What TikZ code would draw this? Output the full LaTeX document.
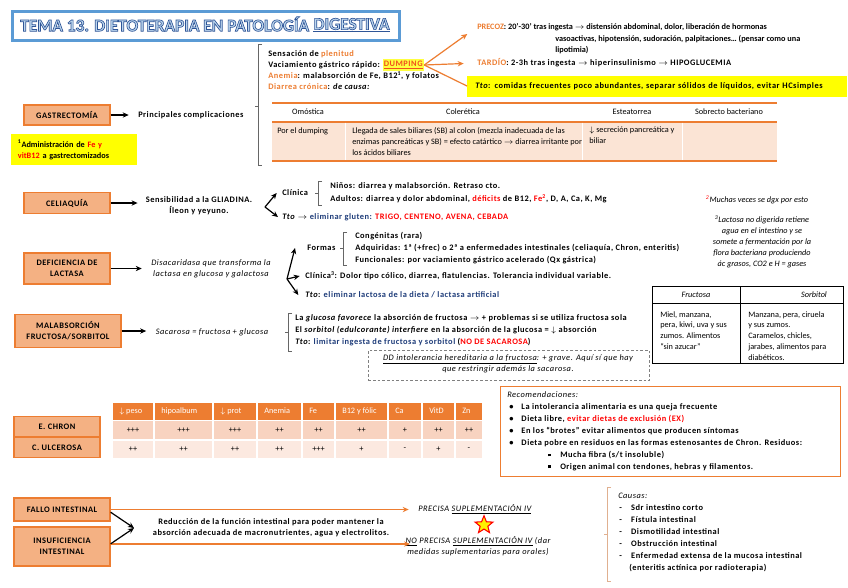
\documentclass[tikz,border=0pt]{standalone}
\usepackage{fontspec}
\setmainfont{Carlito}
\newfontfamily\wf{Carlito}[LetterSpace=6]
\usetikzlibrary{arrows.meta,shapes.geometric}
\definecolor{org}{HTML}{ED7D31}
\definecolor{salm}{HTML}{F4B183}
\definecolor{peach}{HTML}{FBE4D5}
\definecolor{navy}{HTML}{1F3D7A}
\definecolor{yel}{HTML}{FFFF00}
\definecolor{tline}{HTML}{5B9BD5}
\definecolor{tfill}{HTML}{BDD7EE}
\definecolor{tdark}{HTML}{2F5597}
\definecolor{rowa}{HTML}{F8D3C0}
\definecolor{rowb}{HTML}{FCE9E0}
\definecolor{dumpc}{HTML}{F0501E}
\definecolor{brkc}{HTML}{E0B090}
\newcommand\fs{\fontsize{6.2}{8.2}\selectfont}
\newcommand\fw{\fontsize{6.3}{8.2}\selectfont\wf}
\newcommand\outl[1]{\special{pdf:literal direct 2 Tr 0.5 w 0.184 0.333 0.592 RG}#1\special{pdf:literal direct 0 Tr}}
\tikzset{
 txt/.style={anchor=west, inner sep=0pt, font=\fw\bfseries, align=left},
 ntxt/.style={anchor=west, inner sep=0pt, font=\fs\bfseries, align=left},
 rtxt/.style={anchor=west, inner sep=0pt, font=\fs, align=left},
 itxt/.style={anchor=west, inner sep=0pt, font=\fw\itshape, align=left},
 nitxt/.style={anchor=west, inner sep=0pt, font=\fs\itshape, align=left},
 ebox/.style={draw=org, fill=salm, line width=0.9pt, font=\fw\bfseries, align=center, inner sep=0pt},
 arr/.style={-{Stealth[length=4.5pt,width=4pt]}, line width=0.9pt},
 oarr/.style={org, -{Stealth[length=4.5pt,width=4pt]}, line width=0.9pt},
 brk/.style={draw=gray!80!black, line width=0.5pt},
}
\begin{document}
\begin{tikzpicture}[x=0.75pt,y=-0.75pt]
\useasboundingbox[fill=white] (0,0) rectangle (848,587);

% title
\node[draw=tline, line width=2pt, anchor=north west, minimum width=290.25pt, minimum height=21.75pt, inner sep=0] (titlebox) at (11,10) {};
\node[anchor=west, inner sep=0, font=\fontsize{13}{13}\selectfont\bfseries] (title1) at (20,24) {{\color{tfill}\outl{TEMA 13. DIETOTERAPIA EN PATOLOGÍA}}};
\node[anchor=west, inner sep=0, font=\fontsize{13}{13}\selectfont\bfseries] (title2) at ([xshift=3pt]title1.east) {{\color{tfill}\outl{DIGESTIVA}}};
\draw[tdark, line width=0.8pt] ([yshift=-1pt]title2.south west) -- ([yshift=-1pt]title2.south east);

% gastrectomia
\node[ebox, minimum width=64.5pt, minimum height=15pt] (gast) at (67,115) {GASTRECTOMÍA};
\node[txt] (princ) at (138,115) {Principales complicaciones};
\draw[arr, shorten >=7pt] (gast) -- (princ);
\node[fill=yel, anchor=north west, text width=84pt, inner xsep=5pt, inner ysep=0pt, minimum height=23.25pt, font=\fs\bfseries, align=left] (note1) at (11,134) {\textsuperscript{1}Administración de {\color{red}Fe y}\\{\color{red}vitB12} a gastrectomizados};
\draw[brk] (262,44) -- (258,44) -- (258,165) -- (262,165);
\draw[brk] (258,106) -- (255,106);

\node[txt] (s1) at (268,54) {Sensación de {\color{org}plenitud}};
\node[txt] (s2) at (268,65) {Vaciamiento gástrico rápido:};
\node[txt, fill=yel!75, inner xsep=1pt, inner ysep=1.2pt, text=dumpc] (dump) at ([xshift=1.5pt]s2.east) {\underline{DUMPING}};
\node[txt] (s3) at (268,76) {{\color{org}Anemia}: malabsorción de Fe, B12\textsuperscript{1}, y folatos};
\node[txt] (s4) at (268,87) {{\color{org}Diarrea crónica}: \textit{de causa:}};

\node[ntxt] (precoz) at (477,27) {{\color{org}PRECOZ}: 20'-30' tras ingesta $\rightarrow$ distensión abdominal, dolor, liberación de hormonas};
\node[ntxt] (precoz2) at (555,39) {vasoactivas, hipotensión, sudoración, palpitaciones… (pensar como una};
\node[ntxt] (precoz3) at (555,50) {lipotimia)};
\node[txt] (tardio) at (477,63) {{\color{org}TARDÍO}: 2-3h tras ingesta $\rightarrow$ hiperinsulinismo $\rightarrow$ HIPOGLUCEMIA};
\node[fill=yel, anchor=west, minimum height=15.75pt, text width=273pt, inner xsep=6pt, font=\fw\bfseries, align=left] (ttod) at (467,86) {\textit{Tto}: comidas frecuentes poco abundantes, separar sólidos de líquidos, evitar HCsimples};
\draw[oarr, shorten >=9pt] (dump.east) -- (precoz.west);
\draw[oarr, shorten >=10pt] (dump.east) -- (tardio.west);
\draw[org, line width=0.9pt] (dump.east) -- (ttod.west);

% table
\fill[peach] (272,122) rectangle (777,161);
\draw[org, line width=1.3pt] (272,103) -- (777,103);
\draw[org, line width=0.9pt] (272,122) -- (777,122);
\draw[org, line width=1.6pt] (272,161) -- (777,161);
\foreach \c in {345,582,682} {\draw[white, line width=0.6pt] (\c,122.5) -- (\c,160);}
\node[rtxt, anchor=center] (h1) at (308,112) {Omóstica};
\node[rtxt, anchor=center] (h2) at (463,112) {Colerética};
\node[rtxt, anchor=center] (h3) at (632,112) {Esteatorrea};
\node[rtxt, anchor=center] (h4) at (729,112) {Sobrecto bacteriano};
\node[rtxt] (b1) at (277,131) {Por el dumping};
\node[rtxt, anchor=north west] (b2) at (352,127) {Llegada de sales biliares (SB) al colon (mezcla inadecuada de las\\enzimas pancreáticas y SB) = efecto catártico $\rightarrow$ diarrea irritante por\\los ácidos biliares};
\node[rtxt, anchor=north west] (b3) at (589,127) {$\downarrow$ secreción pancreática y\\biliar};

% celiaquia
\node[ebox, minimum width=64.5pt, minimum height=16pt] (celiac) at (67,203) {CELIAQUÍA};
\node[txt, anchor=center, align=center] (glia) at (199,205.5) {Sensibilidad a la GLIADINA.\\Íleon y yeyuno.};
\draw[arr, shorten >=6pt] (celiac) -- (glia.west |- celiac);
\coordinate (fk1) at (265,207);
\node[txt] (clin) at (282,193) {Clínica};
\node[txt] (ttoc) at (282,217) {\textit{Tto} $\rightarrow$ {\color{navy}eliminar gluten:} {\color{red}TRIGO, CENTENO, AVENA, CEBADA}};
\draw[arr] (fk1) -- ([xshift=-4pt]clin.west);
\draw[arr] (fk1) -- ([xshift=-3pt]ttoc.west);
\draw[brk] (322,181) -- (318,181) -- (318,205) -- (322,205);
\draw[brk] (318,193) -- (315,193);
\node[txt] (ninos) at (330,186) {Niños: diarrea y malabsorción. Retraso cto.};
\node[txt] (adult) at (330,199) {Adultos: diarrea y dolor abdominal, {\color{red}déficits} de B12, {\color{red}Fe\textsuperscript{2}}, D, A, Ca, K, Mg};
\node[nitxt, anchor=center] (n2) at (757,200) {\textsuperscript{\color{red}2}Muchas veces se dgx por esto};
\node[nitxt, anchor=center, align=center] (n3) at (762,242) {\textsuperscript{3}Lactosa no digerida retiene\\agua en el intestino y se\\somete a fermentación por la\\flora bacteriana produciendo\\ác grasos, CO2 e H = gases};

% lactasa
\node[ebox, minimum width=64.5pt, minimum height=23.25pt] (lact) at (67,268.5) {DEFICIENCIA DE\\LACTASA};
\node[itxt, anchor=center, align=center] (disac) at (211,269) {Disacaridasa que transforma la\\lactasa en glucosa y galactosa};
\draw[arr, shorten >=7pt] (lact) -- (disac.west |- lact);
\coordinate (fk2) at (287,279);
\node[txt] (formas) at (307,248) {Formas};
\node[txt] (clin2) at (305,276) {Clínica\textsuperscript{3}: Dolor tipo cólico, diarrea, flatulencias. Tolerancia individual variable.};
\node[txt] (ttol) at (305,295) {\textit{Tto}: {\color{navy}eliminar lactosa de la dieta / lactasa artificial}};
\draw[arr] (fk2) -- ([xshift=-9pt]formas.west);
\draw[arr] (fk2) -- ([xshift=-4pt]clin2.west);
\draw[arr] (fk2) -- ([xshift=-5pt]ttol.west);
\draw[brk] (347,232) -- (343,232) -- (343,265) -- (347,265);
\draw[brk] (343,248) -- (340,248);
\node[txt] (cong) at (355,236) {Congénitas (rara)};
\node[txt] (adq) at (355,248) {Adquiridas: 1ª (+frec) o 2ª a enfermedades intestinales (celiaquía, Chron, enteritis)};
\node[txt] (func) at (355,260) {Funcionales: por vaciamiento gástrico acelerado (Qx gástrica)};

% malabsorcion
\node[ebox, minimum width=79.5pt, minimum height=24.75pt] (malab) at (68,331) {MALABSORCIÓN\\FRUCTOSA/SORBITOL};
\node[itxt, anchor=center] (sacar) at (212,332) {Sacarosa = fructosa + glucosa};
\draw[arr, shorten >=7pt] (malab) -- (sacar.west |- malab);
\draw[brk] (292,313) -- (288,313) -- (288,351) -- (292,351);
\draw[brk] (288,332) -- (285,332);
\node[txt] (m1) at (295,318) {La \textit{glucosa favorece} la absorción de fructosa $\rightarrow$ + problemas si se utiliza fructosa sola};
\node[txt] (m2) at (295,330) {El \textit{sorbitol (edulcorante) interfiere} en la absorción de la glucosa = $\downarrow$ absorción};
\node[txt] (m3) at (295,342) {\textit{Tto}: {\color{navy}limitar ingesta de fructosa y sorbitol} ({\color{red}NO DE SACAROSA})};
\node[draw=gray, dash pattern=on 2pt off 1.5pt, line width=0.5pt, anchor=north west, minimum width=210.75pt, minimum height=22.5pt, inner sep=0] (ddbox) at (368,350) {};
\node[itxt, anchor=center, align=center] (ddtxt) at (508,364) {\underline{DD intolerancia hereditaria a la fructosa}: + grave. Aquí sí que hay\\que restringir además la sacarosa.};

% fructosa table
\draw[line width=0.7pt] (652,286) rectangle (843,363);
\draw[line width=0.7pt] (652,303) -- (843,303);
\draw[line width=0.7pt] (740,286) -- (740,363);
\node[nitxt, anchor=center] (fh1) at (696,295) {Fructosa};
\node[nitxt, anchor=center] (fh2) at (814,295) {Sorbitol};
\node[rtxt, anchor=north west] (fb1) at (660,311) {Miel, manzana,\\pera, kiwi, uva y sus\\zumos. Alimentos\\“sin azucar”};
\node[rtxt, anchor=north west] (fb2) at (748,311) {Manzana, pera, ciruela\\y sus zumos.\\Caramelos, chicles,\\jarabes, alimentos para\\diabéticos.};

% chron table
\node[ebox, minimum width=64.5pt, minimum height=15pt] (chron) at (57,426.5) {E. CHRON};
\node[ebox, minimum width=64.5pt, minimum height=15pt] (ulc) at (57,447.5) {C. ULCEROSA};
\foreach \a/\b/\h/\va/\vb in {112/154/$\downarrow$ peso/+++/++, 154/213/hipoalbum/+++/++, 213/257/$\downarrow$ prot/+++/++, 257/302/Anemia/++/++, 302/335/Fe/++/+++, 335/388/B12 y fólic/++/+, 388/422/Ca/+/-, 422/455/VitD/++/+, 455/483/Zn/++/-}{
  \fill[org] (\a+0.7,403) rectangle (\b-0.7,419.5);
  \fill[rowa] (\a+0.7,421) rectangle (\b-0.7,439);
  \fill[rowb] (\a+0.7,440.5) rectangle (\b-0.7,458);
  \node[rtxt, text=white] (hd\a) at (\a+7,411) {\h};
  \node[rtxt, anchor=center] (ra\a) at ({(\a+\b)/2},430) {\va};
  \node[rtxt, anchor=center] (rb\a) at ({(\a+\b)/2},449) {\vb};
}

% recomendaciones
\node[draw=org, line width=1pt, anchor=north west, minimum width=255pt, minimum height=67.5pt, inner sep=0] (recbox) at (500,386) {};
\node[itxt] (rec0) at (507,395) {Recomendaciones:};
\node[txt] (r1) at (509,407) {\textbullet\hspace{6pt}La intolerancia alimentaria es una queja frecuente};
\node[txt] (r2) at (509,419) {\textbullet\hspace{6pt}Dieta libre, {\color{red}evitar dietas de exclusión (EX)}};
\node[txt] (r3) at (509,431) {\textbullet\hspace{6pt}En los “brotes” evitar alimentos que producen síntomas};
\node[txt] (r4) at (509,443) {\textbullet\hspace{6pt}Dieta pobre en residuos en las formas estenosantes de Chron. Residuos:};
\node[txt] (r5) at (548,455) {\rule[0.3ex]{2pt}{2pt}\hspace{7pt}Mucha fibra (s/t insoluble)};
\node[txt] (r6) at (548,467) {\rule[0.3ex]{2pt}{2pt}\hspace{7pt}Origen animal con tendones, hebras y filamentos.};

% fallo intestinal
\node[ebox, minimum width=72pt, minimum height=17.25pt] (fallo) at (62,509.5) {FALLO INTESTINAL};
\node[ebox, minimum width=72pt, minimum height=29.25pt] (insuf) at (62,546.5) {INSUFICIENCIA\\INTESTINAL};
\node[itxt] (precisa) at (418,509) {PRECISA \underline{SUPLEMENTACIÓN IV}};
\draw[oarr, shorten >=7pt] (fallo.east) -- (precisa.west |- fallo.east);
\node[itxt, anchor=north, align=center] (noprec) at (478,536) {\underline{NO} PRECISA \underline{SUPLEMENTACIÓN IV} (dar\\medidas suplementarias para orales)};
\coordinate (nop) at (410,544);
\draw[oarr] (insuf.east |- nop) -- (nop);
\coordinate (jn) at (134,528);
\draw[arr] ([yshift=-2pt]fallo.east) -- (jn);
\draw[arr] ([yshift=2pt]insuf.east) -- (jn);
\node[txt, anchor=center, align=center] (reduc) at (271,528) {Reducción de la función intestinal para poder mantener la\\absorción adecuada de macronutrientes, agua y electrolitos.};
\node[star, star points=5, star point ratio=2.3, fill=yellow, draw=red, line width=0.8pt, minimum size=14pt, inner sep=0] (star) at (484,525) {};

\draw[brkc, line width=0.6pt] (611,487) -- (607,487) -- (607,581) -- (611,581);
\draw[brkc, line width=0.6pt] (607,534) -- (604,534);
\node[itxt] (causas) at (618,496) {Causas:};
\node[txt] (c1) at (619,508) {-\hspace{7pt}Sdr intestino corto};
\node[txt] (c2) at (619,520) {-\hspace{7pt}Fístula intestinal};
\node[txt] (c3) at (619,532) {-\hspace{7pt}Dismotilidad intestinal};
\node[txt] (c4) at (619,544) {-\hspace{7pt}Obstrucción intestinal};
\node[txt] (c5) at (619,556) {-\hspace{7pt}Enfermedad extensa de la mucosa intestinal};
\node[txt] (c6) at (629,568) {(enteritis actínica por radioterapia)};
\end{tikzpicture}
\end{document}
